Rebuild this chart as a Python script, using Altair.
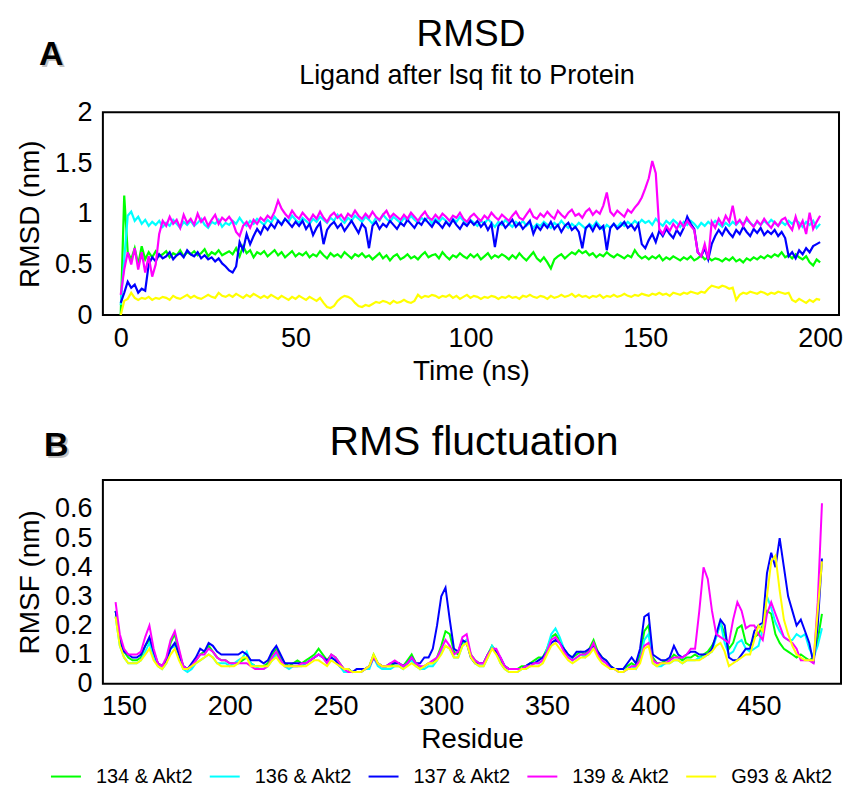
import altair as alt
import pandas as pd

series = ["134 & Akt2", "136 & Akt2", "137 & Akt2", "139 & Akt2", "G93 & Akt2"]
colors = ["#00ff00", "#00ffff", "#0000ff", "#ff00ff", "#ffff00"]

# ---------------- RMSD (nm) vs time (ns) ----------------
time_ns = list(range(0, 201))

rmsd_134 = [0.00, 1.18, 0.62, 0.55, 0.66, 0.50, 0.68, 0.55, 0.62, 0.57, 0.63,
            0.58, 0.60, 0.63, 0.57, 0.61, 0.59, 0.64, 0.58, 0.62, 0.60,
            0.63, 0.59, 0.61, 0.65, 0.58, 0.62, 0.60, 0.64, 0.59, 0.61,
            0.63, 0.60, 0.66, 0.58, 0.68, 0.61, 0.64, 0.57, 0.62, 0.60,
            0.63, 0.58, 0.61, 0.64, 0.59, 0.62, 0.57, 0.60, 0.63, 0.58,
            0.61, 0.59, 0.62, 0.57, 0.60, 0.58, 0.63, 0.59, 0.56, 0.61,
            0.58, 0.60, 0.57, 0.62, 0.59, 0.56, 0.60, 0.58, 0.61, 0.57,
            0.59, 0.55, 0.58, 0.61, 0.56, 0.59, 0.54, 0.58, 0.60, 0.55,
            0.57, 0.60, 0.56, 0.58, 0.55, 0.59, 0.62, 0.57, 0.59, 0.60,
            0.56, 0.62, 0.58, 0.55, 0.59, 0.57, 0.61, 0.58, 0.56, 0.60,
            0.57, 0.60, 0.55, 0.58, 0.61, 0.56, 0.59, 0.57, 0.60, 0.58,
            0.55, 0.59, 0.56, 0.61, 0.57, 0.54, 0.58, 0.62, 0.56, 0.53,
            0.57, 0.52, 0.46, 0.55, 0.58, 0.60, 0.56, 0.59, 0.62, 0.60,
            0.64, 0.61, 0.63, 0.59, 0.61, 0.57, 0.60, 0.58, 0.62, 0.59,
            0.57, 0.60, 0.58, 0.56, 0.59, 0.57, 0.64, 0.59, 0.56, 0.58,
            0.55, 0.58, 0.56, 0.59, 0.54, 0.57, 0.55, 0.58, 0.56, 0.54,
            0.57, 0.55, 0.58, 0.54, 0.56, 0.59, 0.55, 0.57, 0.54, 0.56,
            0.55, 0.53, 0.56, 0.54, 0.57, 0.53, 0.55, 0.52, 0.56, 0.54,
            0.57, 0.55, 0.58, 0.56, 0.59, 0.57, 0.60, 0.58, 0.62, 0.57,
            0.59, 0.56, 0.60, 0.57, 0.55, 0.58, 0.52, 0.49, 0.55, 0.52]

rmsd_136 = [0.10, 0.55, 0.98, 1.02, 0.93, 0.97, 0.90, 0.94, 0.88, 0.92, 0.89,
            0.93, 0.87, 0.91, 0.88, 0.94, 0.90, 0.86, 0.92, 0.89, 0.93,
            0.88, 0.91, 0.95, 0.89, 0.86, 0.92, 0.90, 0.94, 0.87, 0.91,
            0.89, 0.93, 0.90, 0.96, 0.91, 0.88, 0.93, 0.90, 0.95, 0.92,
            0.89, 0.94, 0.91, 0.97, 0.93, 0.90, 0.95, 0.92, 0.98, 0.94,
            0.91, 0.96, 0.93, 0.90, 0.95, 0.92, 0.97, 0.94, 0.91, 0.96,
            0.93, 0.99, 0.94, 0.91, 0.96, 0.93, 0.98, 0.95, 0.92, 0.97,
            0.94, 0.90, 0.96, 0.93, 0.99, 0.95, 0.92, 0.97, 0.94, 0.91,
            0.96, 0.93, 0.98, 0.94, 0.91, 0.96, 0.93, 0.97, 0.90, 0.95,
            0.92, 0.96, 0.93, 0.89, 0.95, 0.92, 0.97, 0.93, 0.90, 0.94,
            0.91, 0.88, 0.93, 0.90, 0.95, 0.91, 0.87, 0.92, 0.89, 0.94,
            0.90, 0.87, 0.92, 0.89, 0.93, 0.88, 0.91, 0.86, 0.90, 0.88,
            0.92, 0.89, 0.86, 0.91, 0.88, 0.93, 0.89, 0.86, 0.90, 0.87,
            0.91, 0.88, 0.85, 0.90, 0.87, 0.92, 0.88, 0.84, 0.89, 0.86,
            0.90, 0.87, 0.91, 0.88, 0.92, 0.89, 0.93, 0.90, 0.94, 0.91,
            0.93, 0.89, 0.95, 0.91, 0.88, 0.93, 0.90, 0.94, 0.91, 0.87,
            0.92, 0.89, 0.93, 0.90, 0.86, 0.91, 0.88, 0.92, 0.89, 0.93,
            0.90, 0.87, 0.91, 0.88, 0.92, 0.89, 0.93, 0.90, 0.94, 0.91,
            0.88, 0.92, 0.89, 0.93, 0.90, 0.94, 0.91, 0.88, 0.92, 0.89,
            0.93, 0.90, 0.94, 0.91, 0.87, 0.92, 0.89, 0.93, 0.86, 0.90]

rmsd_137 = [0.12, 0.22, 0.33, 0.27, 0.30, 0.22, 0.26, 0.24, 0.50, 0.57, 0.53,
            0.60, 0.56, 0.58, 0.62, 0.55, 0.59, 0.61, 0.57, 0.64, 0.60,
            0.58, 0.62, 0.56, 0.59, 0.55, 0.57, 0.53, 0.56, 0.51, 0.48,
            0.44, 0.42, 0.48, 0.72, 0.64, 0.80, 0.70, 0.78, 0.85, 0.80,
            0.88, 0.84, 0.90, 0.86, 0.93, 0.89, 0.95, 0.91, 0.87, 0.92,
            0.88, 0.93, 0.85, 0.90, 0.79, 0.86, 0.91, 0.70, 0.84, 0.89,
            0.92, 0.86, 0.90, 0.83, 0.88, 0.93, 0.87, 0.81, 0.90, 0.86,
            0.66, 0.88, 0.92, 0.85, 0.90, 0.87, 0.93, 0.89, 0.85, 0.91,
            0.88, 0.94, 0.90, 0.86, 0.92, 0.89, 0.95, 0.91, 0.87, 0.93,
            0.90, 0.86, 0.92, 0.88, 0.94, 0.89, 0.85, 0.91, 0.88, 0.93,
            0.89, 0.93, 0.87, 0.91, 0.84, 0.90, 0.67, 0.88, 0.92, 0.86,
            0.90, 0.94, 0.87, 0.91, 0.85, 0.89, 0.93, 0.80, 0.88, 0.84,
            0.90, 0.86, 0.92, 0.85, 0.89, 0.82, 0.88, 0.91, 0.84, 0.87,
            0.82, 0.66, 0.86, 0.89, 0.83, 0.90, 0.85, 0.88, 0.64, 0.86,
            0.90, 0.85, 0.88, 0.92, 0.86, 0.89, 0.84, 0.90, 0.70, 0.66,
            0.74, 0.80, 0.72, 0.83, 0.78, 0.85, 0.80, 0.76, 0.84, 0.79,
            0.86, 0.97, 0.90, 0.85, 0.62, 0.58, 0.66, 0.55, 0.70, 0.78,
            0.84, 0.79, 0.86, 0.81, 0.77, 0.84, 0.80, 0.87, 0.82, 0.78,
            0.85, 0.81, 0.86, 0.79, 0.83, 0.80, 0.84, 0.78, 0.82, 0.76,
            0.58, 0.62, 0.56, 0.64, 0.60, 0.66, 0.62, 0.68, 0.70, 0.72]

rmsd_139 = [0.20, 0.45, 0.62, 0.50, 0.66, 0.45, 0.62, 0.42, 0.58, 0.38, 0.50,
            0.80, 0.93, 0.88, 0.97, 0.90, 0.94, 0.86, 0.99, 0.91, 0.95,
            0.89, 1.00, 0.92, 0.96, 0.88, 0.94, 0.99, 0.90, 0.96, 0.93,
            0.97, 0.92, 0.82, 0.78, 0.88, 0.92, 0.86, 0.94, 0.90, 0.96,
            0.93, 0.98, 0.95, 1.02, 1.13, 1.05, 1.00, 0.96, 1.03, 0.98,
            0.95, 1.01, 0.97, 0.93, 0.99, 0.95, 1.02, 0.96, 0.92, 0.98,
            1.01, 0.96, 0.99, 0.94, 1.00, 0.97, 1.03, 0.98, 0.95, 1.00,
            0.96, 1.02, 0.97, 0.94, 0.99, 1.03, 0.96, 1.00, 0.97, 0.94,
            0.99, 0.95, 1.01, 0.97, 0.93, 0.98, 1.02, 0.96, 0.94, 0.99,
            0.95, 1.00, 0.97, 0.93, 0.98, 0.96, 1.01, 0.95, 0.92, 0.97,
            1.00, 0.96, 0.93, 0.98, 0.95, 1.01, 0.97, 0.94, 0.99, 0.96,
            0.93, 0.98, 1.02, 0.96, 0.94, 0.99, 1.04, 0.97, 0.95, 1.00,
            0.97, 1.02, 0.98, 0.95, 1.03, 0.99, 0.96, 1.01, 1.04, 0.98,
            1.00, 0.96, 1.02, 1.05, 0.99, 1.03, 1.00, 1.08, 1.21, 1.02,
            0.98, 1.03, 1.00, 0.97, 1.04, 1.01, 1.06, 1.10, 1.16, 1.25,
            1.35, 1.52, 1.40, 0.85, 0.80, 0.88, 0.83, 0.90, 0.85, 0.92,
            0.87, 0.93, 0.88, 0.84, 0.62, 0.58, 0.70, 0.55, 0.92, 0.86,
            0.95, 0.89, 0.98, 0.92, 1.08, 0.90, 0.94, 0.88, 0.96, 0.91,
            0.87, 0.93, 0.89, 0.95, 0.90, 0.86, 0.92, 0.88, 0.94, 0.96,
            0.89, 0.84, 0.97, 0.86, 0.93, 0.80, 1.01, 0.85, 0.92, 0.98]

rmsd_g93 = [0.00, 0.14, 0.16, 0.22, 0.17, 0.15, 0.17, 0.16, 0.18, 0.15, 0.17,
            0.16, 0.18, 0.17, 0.15, 0.19, 0.17, 0.16, 0.18, 0.20, 0.17,
            0.19, 0.17, 0.16, 0.18, 0.20, 0.18, 0.17, 0.22, 0.19, 0.18,
            0.20, 0.18, 0.21, 0.19, 0.17, 0.20, 0.18, 0.21, 0.19, 0.17,
            0.19, 0.17, 0.20, 0.18, 0.16, 0.19, 0.17, 0.15, 0.18, 0.16,
            0.19, 0.17, 0.15, 0.18, 0.16, 0.14, 0.17, 0.12, 0.08, 0.07,
            0.09, 0.14, 0.17, 0.19, 0.18, 0.16, 0.12, 0.09, 0.08, 0.10,
            0.09, 0.11, 0.13, 0.12, 0.14, 0.13, 0.11, 0.14, 0.12, 0.13,
            0.15, 0.13, 0.12, 0.14, 0.20, 0.17, 0.19, 0.18, 0.20, 0.19,
            0.17, 0.19, 0.18, 0.20, 0.17, 0.19, 0.16, 0.18, 0.20, 0.17,
            0.19, 0.18, 0.16, 0.18, 0.17, 0.19, 0.18, 0.16, 0.18, 0.17,
            0.19, 0.17, 0.18, 0.16, 0.19, 0.18, 0.20, 0.18, 0.17, 0.19,
            0.18, 0.16, 0.19, 0.17, 0.18, 0.20, 0.18, 0.19, 0.21, 0.18,
            0.20, 0.18, 0.19, 0.17, 0.19, 0.18, 0.20, 0.17, 0.19, 0.18,
            0.20, 0.18, 0.19, 0.21, 0.19, 0.18, 0.20, 0.19, 0.21, 0.20,
            0.19, 0.21, 0.20, 0.22, 0.20, 0.21, 0.19, 0.22, 0.21, 0.20,
            0.22, 0.21, 0.23, 0.22, 0.21, 0.23, 0.22, 0.26, 0.29, 0.28,
            0.27, 0.29, 0.28, 0.26, 0.27, 0.15, 0.20, 0.22, 0.21, 0.23,
            0.22, 0.21, 0.23, 0.22, 0.20, 0.22, 0.21, 0.23, 0.22, 0.21,
            0.22, 0.15, 0.13, 0.16, 0.14, 0.12, 0.15, 0.13, 0.16, 0.15]

# ---------------- RMSF (nm) vs residue ----------------
residues = list(range(146, 481, 2))

rmsf_134 = [0.25, 0.15, 0.11, 0.09, 0.08, 0.08, 0.09, 0.13, 0.15, 0.10,
            0.07, 0.06, 0.08, 0.14, 0.17, 0.11, 0.06, 0.05, 0.06, 0.08,
            0.10, 0.11, 0.13, 0.11, 0.09, 0.08, 0.08, 0.07, 0.07, 0.07,
            0.08, 0.09, 0.07, 0.06, 0.06, 0.06, 0.07, 0.10, 0.12, 0.09,
            0.07, 0.06, 0.07, 0.08, 0.07, 0.08, 0.09, 0.10, 0.12, 0.10,
            0.08, 0.10, 0.09, 0.07, 0.05, 0.05, 0.04, 0.04, 0.04, 0.05,
            0.06, 0.10, 0.07, 0.06, 0.06, 0.06, 0.07, 0.07, 0.06, 0.08,
            0.10, 0.07, 0.05, 0.06, 0.07, 0.07, 0.09, 0.13, 0.18, 0.17,
            0.11, 0.10, 0.14, 0.15, 0.10, 0.08, 0.07, 0.07, 0.10, 0.13,
            0.11, 0.08, 0.06, 0.05, 0.05, 0.05, 0.06, 0.06, 0.07, 0.08,
            0.09, 0.09, 0.12, 0.16, 0.17, 0.15, 0.12, 0.10, 0.09, 0.10,
            0.11, 0.10, 0.12, 0.15, 0.11, 0.09, 0.08, 0.06, 0.05, 0.05,
            0.05, 0.06, 0.07, 0.06, 0.10, 0.18, 0.20, 0.09, 0.07, 0.07,
            0.08, 0.08, 0.10, 0.09, 0.08, 0.09, 0.09, 0.10, 0.09, 0.10,
            0.11, 0.13, 0.16, 0.21, 0.17, 0.12, 0.14, 0.19, 0.20, 0.14,
            0.13, 0.16, 0.17, 0.20, 0.25, 0.24, 0.17, 0.14, 0.12, 0.11,
            0.10, 0.09, 0.10, 0.09, 0.08, 0.09, 0.15, 0.24]

rmsf_136 = [0.23, 0.13, 0.09, 0.07, 0.07, 0.07, 0.08, 0.11, 0.14, 0.09,
            0.06, 0.05, 0.07, 0.12, 0.13, 0.09, 0.05, 0.04, 0.05, 0.07,
            0.08, 0.09, 0.10, 0.09, 0.07, 0.07, 0.07, 0.06, 0.07, 0.08,
            0.09, 0.11, 0.07, 0.06, 0.05, 0.05, 0.06, 0.08, 0.10, 0.08,
            0.06, 0.05, 0.06, 0.06, 0.06, 0.07, 0.08, 0.09, 0.10, 0.09,
            0.07, 0.09, 0.08, 0.06, 0.04, 0.04, 0.04, 0.04, 0.04, 0.05,
            0.05, 0.09, 0.06, 0.05, 0.05, 0.05, 0.06, 0.06, 0.05, 0.07,
            0.08, 0.06, 0.05, 0.05, 0.06, 0.06, 0.08, 0.11, 0.13, 0.12,
            0.09, 0.09, 0.13, 0.15, 0.09, 0.07, 0.06, 0.06, 0.09, 0.13,
            0.11, 0.07, 0.05, 0.04, 0.04, 0.04, 0.05, 0.05, 0.06, 0.07,
            0.07, 0.08, 0.12, 0.17, 0.19, 0.16, 0.12, 0.10, 0.08, 0.09,
            0.10, 0.09, 0.11, 0.13, 0.10, 0.08, 0.07, 0.05, 0.05, 0.04,
            0.04, 0.05, 0.06, 0.05, 0.08, 0.15, 0.17, 0.07, 0.06, 0.06,
            0.07, 0.07, 0.08, 0.08, 0.07, 0.08, 0.08, 0.08, 0.09, 0.09,
            0.10, 0.11, 0.16, 0.21, 0.14, 0.10, 0.11, 0.14, 0.15, 0.12,
            0.11, 0.12, 0.13, 0.19, 0.30, 0.26, 0.21, 0.18, 0.16, 0.15,
            0.15, 0.17, 0.16, 0.17, 0.12, 0.09, 0.13, 0.19]

rmsf_137 = [0.25, 0.15, 0.11, 0.10, 0.09, 0.09, 0.10, 0.13, 0.16, 0.11,
            0.07, 0.06, 0.08, 0.12, 0.14, 0.10, 0.06, 0.05, 0.07, 0.09,
            0.12, 0.11, 0.14, 0.13, 0.11, 0.10, 0.10, 0.10, 0.10, 0.10,
            0.11, 0.10, 0.08, 0.08, 0.08, 0.07, 0.08, 0.11, 0.13, 0.10,
            0.07, 0.07, 0.07, 0.07, 0.07, 0.07, 0.08, 0.09, 0.10, 0.09,
            0.08, 0.09, 0.08, 0.06, 0.05, 0.05, 0.04, 0.05, 0.05, 0.05,
            0.06, 0.09, 0.07, 0.06, 0.06, 0.07, 0.07, 0.07, 0.06, 0.07,
            0.09, 0.07, 0.07, 0.09, 0.09, 0.12, 0.20, 0.30, 0.33, 0.22,
            0.12, 0.11, 0.15, 0.14, 0.09, 0.07, 0.07, 0.07, 0.10, 0.12,
            0.11, 0.09, 0.06, 0.05, 0.05, 0.05, 0.05, 0.06, 0.07, 0.07,
            0.08, 0.09, 0.11, 0.14, 0.15, 0.14, 0.12, 0.10, 0.09, 0.11,
            0.11, 0.11, 0.12, 0.13, 0.11, 0.09, 0.08, 0.06, 0.05, 0.05,
            0.05, 0.07, 0.09, 0.07, 0.12, 0.23, 0.24, 0.10, 0.09, 0.08,
            0.08, 0.09, 0.13, 0.10, 0.09, 0.10, 0.11, 0.11, 0.10, 0.10,
            0.10, 0.12, 0.17, 0.22, 0.20, 0.09, 0.08, 0.08, 0.10, 0.12,
            0.12, 0.18, 0.20, 0.21, 0.38, 0.45, 0.40, 0.50, 0.40, 0.30,
            0.25, 0.20, 0.22, 0.18, 0.14, 0.07, 0.20, 0.43]

rmsf_139 = [0.28, 0.17, 0.12, 0.10, 0.10, 0.10, 0.11, 0.16, 0.20, 0.12,
            0.07, 0.06, 0.09, 0.15, 0.18, 0.12, 0.06, 0.05, 0.06, 0.08,
            0.10, 0.10, 0.12, 0.11, 0.09, 0.08, 0.08, 0.07, 0.07, 0.07,
            0.07, 0.07, 0.06, 0.05, 0.05, 0.05, 0.06, 0.09, 0.11, 0.08,
            0.06, 0.06, 0.06, 0.06, 0.07, 0.07, 0.08, 0.09, 0.10, 0.09,
            0.07, 0.10, 0.09, 0.07, 0.05, 0.04, 0.04, 0.04, 0.04, 0.05,
            0.06, 0.09, 0.07, 0.06, 0.06, 0.07, 0.08, 0.07, 0.06, 0.07,
            0.09, 0.07, 0.06, 0.06, 0.07, 0.08, 0.09, 0.12, 0.15, 0.13,
            0.10, 0.11, 0.16, 0.17, 0.10, 0.08, 0.07, 0.07, 0.10, 0.12,
            0.12, 0.09, 0.06, 0.05, 0.05, 0.05, 0.05, 0.06, 0.06, 0.07,
            0.07, 0.08, 0.11, 0.15, 0.16, 0.14, 0.11, 0.09, 0.08, 0.09,
            0.10, 0.10, 0.11, 0.14, 0.10, 0.08, 0.07, 0.05, 0.05, 0.04,
            0.04, 0.05, 0.06, 0.06, 0.08, 0.13, 0.14, 0.08, 0.07, 0.07,
            0.07, 0.08, 0.09, 0.09, 0.09, 0.10, 0.12, 0.12, 0.25, 0.40,
            0.36, 0.25, 0.17, 0.16, 0.15, 0.14, 0.22, 0.28, 0.25, 0.19,
            0.20, 0.20, 0.17, 0.15, 0.24, 0.28, 0.24, 0.20, 0.16, 0.15,
            0.14, 0.12, 0.08, 0.08, 0.08, 0.07, 0.28, 0.62]

rmsf_g93 = [0.23, 0.13, 0.09, 0.07, 0.07, 0.07, 0.08, 0.10, 0.12, 0.08,
            0.06, 0.05, 0.07, 0.10, 0.12, 0.08, 0.05, 0.05, 0.06, 0.07,
            0.08, 0.09, 0.10, 0.09, 0.07, 0.06, 0.06, 0.06, 0.06, 0.07,
            0.09, 0.09, 0.06, 0.06, 0.06, 0.06, 0.06, 0.08, 0.09, 0.07,
            0.06, 0.06, 0.06, 0.06, 0.06, 0.06, 0.07, 0.08, 0.08, 0.07,
            0.06, 0.08, 0.07, 0.06, 0.05, 0.05, 0.04, 0.04, 0.04, 0.05,
            0.06, 0.10, 0.07, 0.06, 0.06, 0.06, 0.06, 0.06, 0.05, 0.06,
            0.07, 0.06, 0.05, 0.06, 0.07, 0.07, 0.08, 0.10, 0.13, 0.12,
            0.09, 0.09, 0.13, 0.14, 0.09, 0.07, 0.06, 0.06, 0.09, 0.12,
            0.10, 0.07, 0.05, 0.04, 0.04, 0.04, 0.05, 0.05, 0.06, 0.06,
            0.06, 0.07, 0.10, 0.13, 0.14, 0.12, 0.10, 0.08, 0.07, 0.08,
            0.09, 0.09, 0.10, 0.12, 0.09, 0.07, 0.06, 0.05, 0.05, 0.04,
            0.04, 0.05, 0.05, 0.05, 0.07, 0.12, 0.13, 0.07, 0.06, 0.07,
            0.07, 0.07, 0.08, 0.08, 0.07, 0.08, 0.08, 0.08, 0.08, 0.09,
            0.10, 0.11, 0.13, 0.14, 0.11, 0.06, 0.07, 0.08, 0.09, 0.10,
            0.10, 0.15, 0.20, 0.18, 0.30, 0.42, 0.44, 0.32, 0.22, 0.17,
            0.13, 0.10, 0.09, 0.08, 0.08, 0.08, 0.25, 0.42]

rmsd_lists = [rmsd_134, rmsd_136, rmsd_137, rmsd_139, rmsd_g93]
rmsf_lists = [rmsf_134, rmsf_136, rmsf_137, rmsf_139, rmsf_g93]

rows_a = []
for name, vals in zip(series, rmsd_lists):
    if len(vals) != len(time_ns):
        raise ValueError(f"RMSD {name}: {len(vals)} values")
    rows_a += [{"t": t, "v": v, "series": name} for t, v in zip(time_ns, vals)]
rows_b = []
for name, vals in zip(series, rmsf_lists):
    if len(vals) != len(residues):
        raise ValueError(f"RMSF {name}: {len(vals)} values")
    rows_b += [{"r": r, "v": v, "series": name} for r, v in zip(residues, vals)]
df_a = pd.DataFrame(rows_a)
df_b = pd.DataFrame(rows_b)

FONT = "Liberation Sans"
W1, H1 = 737, 203
W2, H2 = 739, 204

color_top = alt.Color("series:N", scale=alt.Scale(domain=series, range=colors), legend=None)
color_bot = alt.Color(
    "series:N",
    scale=alt.Scale(domain=series, range=colors),
    legend=alt.Legend(
        orient="none", legendX=-53, legendY=281, direction="horizontal",
        title=None, symbolType="stroke", symbolSize=900, symbolStrokeWidth=2,
        labelFontSize=20, labelOffset=14, columnPadding=12, labelColor="black",
        labelFont=FONT, padding=0,
    ),
)


def ax(title, values, pad, fmt, tpad):
    return alt.Axis(
        title=title, values=values, format=fmt, grid=False, ticks=False,
        domain=False, labelFlush=False, labelOverlap=False, labelPadding=pad,
        labelFontSize=27, titleFontSize=28, titleFontWeight="normal",
        labelColor="black", titleColor="black", labelFont=FONT, titleFont=FONT,
        titlePadding=tpad,
    )


def text(label, x, y, size, weight="normal", align="center", col="black",
         op=1.0, base="alphabetic"):
    return alt.Chart(pd.DataFrame({"label": [label]})).mark_text(
        fontSize=size, fontWeight=weight, align=align, baseline=base,
        font=FONT, color=col, opacity=op,
    ).encode(text="label:N", x=alt.value(x), y=alt.value(y))


lines_a = alt.Chart(df_a).mark_line(strokeWidth=2.2, clip=True).encode(
    x=alt.X("t:Q", scale=alt.Scale(domain=[-5.1, 205.4], nice=False, zero=False),
            axis=ax("Time (ns)", [0, 50, 100, 150, 200], 10, "d", 6)),
    y=alt.Y("v:Q", scale=alt.Scale(domain=[0, 2], nice=False),
            axis=ax("RMSD (nm)", [0, 0.5, 1, 1.5, 2], 11, ".1~f", 10)),
    color=color_top,
)

top = alt.layer(
    lines_a,
    text("A", -62, -45, 34, "bold", "left", "#888888", 0.5),
    text("A", -64, -47, 34, "bold", "left"),
    text("RMSD", W1 / 2, -95, 37, base="top"),
    text("Ligand after lsq fit to Protein", W1 / 2 - 4, -28, 27),
).properties(width=W1, height=H1)

lines_b = alt.Chart(df_b).mark_line(strokeWidth=2, clip=True).encode(
    x=alt.X("r:Q", scale=alt.Scale(domain=[140, 489], nice=False, zero=False),
            axis=ax("Residue", [150, 200, 250, 300, 350, 400, 450], 10, "d", 6)),
    y=alt.Y("v:Q", scale=alt.Scale(domain=[0, 0.7], nice=False),
            axis=ax("RMSF (nm)", [0, 0.1, 0.2, 0.3, 0.4, 0.5, 0.6], 11, ".1~f", 10)),
    color=color_bot,
)

bottom = alt.layer(
    lines_b,
    text("B", -57, -22, 34, "bold", "left", "#888888", 0.5),
    text("B", -59, -24, 34, "bold", "left"),
    text("RMS fluctuation", W2 / 2 + 2, -25, 41),
).properties(width=W2, height=H2)

chart = (
    alt.vconcat(top, bottom, spacing=35)
    .resolve_scale(color="independent")
    .resolve_legend(color="independent")
    .properties(padding={"left": 7, "top": 7, "right": 0, "bottom": 0})
    .configure(font=FONT)
    .configure_view(stroke="black", strokeWidth=2)
)

chart.save("out.html", embed_options={"renderer": "svg", "actions": False})
